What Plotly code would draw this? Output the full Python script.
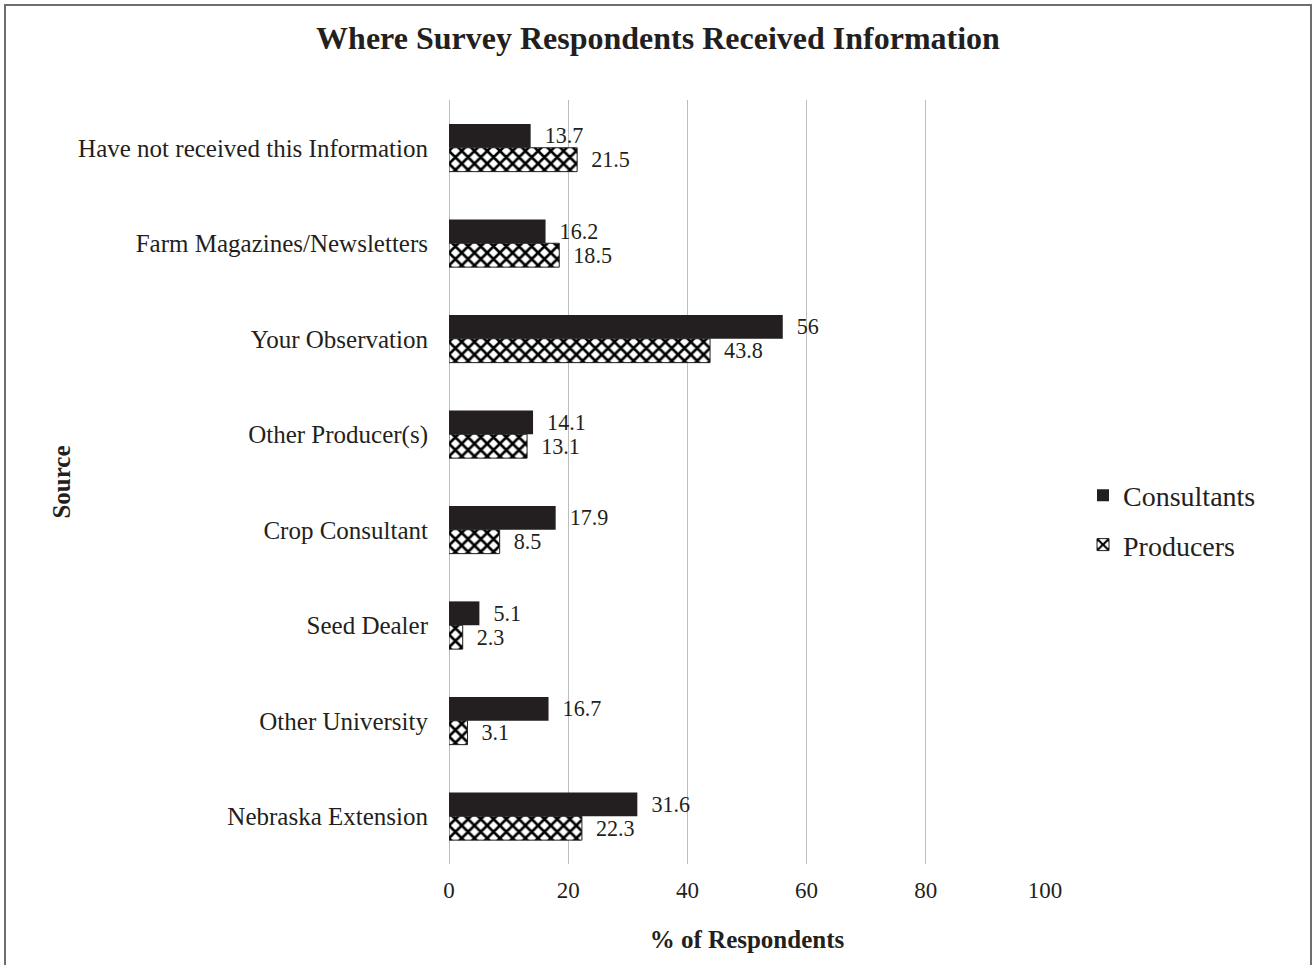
import plotly.graph_objects as go

categories = [
    "Have not received this Information",
    "Farm Magazines/Newsletters",
    "Your Observation",
    "Other Producer(s)",
    "Crop Consultant",
    "Seed Dealer",
    "Other University",
    "Nebraska Extension",
]
consultants = [13.7, 16.2, 56, 14.1, 17.9, 5.1, 16.7, 31.6]
producers = [21.5, 18.5, 43.8, 13.1, 8.5, 2.3, 3.1, 22.3]
x_ticks = [0, 20, 40, 60, 80, 100]

FONT = "Liberation Serif"
INK = "#231f20"
PAD = "\u00a0\u00a0"

fig = go.Figure()
fig.add_trace(go.Bar(
    y=categories, x=consultants, orientation="h", name="Consultants",
    legendgroup="c", legendrank=1,
    marker=dict(color=INK, line=dict(width=0)),
    text=[PAD + f"{v:g}" for v in consultants], textposition="outside",
    textfont=dict(family=FONT, size=25, color=INK), cliponaxis=False,
))
fig.add_trace(go.Bar(
    y=categories, x=producers, orientation="h", name="Producers",
    legendgroup="p", legendrank=2,
    marker=dict(color="white", line=dict(width=1, color=INK),
                pattern=dict(shape="x", fgcolor="#000000", bgcolor="white",
                             fgopacity=1, size=9, solidity=0.5)),
    text=[PAD + f"{v:g}" for v in producers], textposition="outside",
    textfont=dict(family=FONT, size=25, color=INK), cliponaxis=False,
))

L, R, T, B = 449, 1045, 100, 864
W, H = 1313, 965
pw, ph = R - L, B - T

def px_x(p):
    return (p - L) / pw

def px_y(p):
    return (B - p) / ph

fig.update_layout(
    width=W, height=H,
    margin=dict(l=L, r=W - R, t=T, b=H - B, autoexpand=False),
    paper_bgcolor="white", plot_bgcolor="white",
    barmode="group", bargap=0.5, bargroupgap=0,
    font=dict(family=FONT, color=INK),
    title=dict(text="<b>Where Survey Respondents Received Information</b>",
               x=658 / W, xanchor="center", y=1 - 38 / H, yanchor="middle",
               font=dict(family=FONT, size=32, color=INK)),
    xaxis=dict(range=[0, 100], tickvals=x_ticks, showgrid=True, gridcolor="#bdbdbd",
               gridwidth=1, zeroline=True, zerolinecolor="#bdbdbd", zerolinewidth=1,
               showline=False, ticks="", ticklabelstandoff=10,
               tickfont=dict(family=FONT, size=23, color=INK),
               title=dict(text="<b>% of Respondents</b>", standoff=28,
                          font=dict(family=FONT, size=25, color=INK))),
    yaxis=dict(autorange="reversed", showgrid=False, showline=False, ticks="",
               ticklabelstandoff=20,
               tickfont=dict(family=FONT, size=25, color=INK),
               title=dict(text="<b>Source</b>", standoff=0,
                          font=dict(family=FONT, size=25, color=INK))),
    legend=dict(x=px_x(1083), xanchor="left", y=px_y(520), yanchor="middle",
                tracegroupgap=10, font=dict(family=FONT, size=28, color=INK),
                bgcolor="rgba(0,0,0,0)"),
    shapes=[dict(type="rect", xref="paper", yref="paper",
                 x0=px_x(5), x1=px_x(1311), y0=px_y(1020), y1=px_y(5),
                 line=dict(color="#6e6e6e", width=2), fillcolor="rgba(0,0,0,0)",
                 layer="below")],
)

fig.write_html("out.html", config={"displayModeBar": False},
               post_script="document.body.style.margin='0';document.body.style.overflow='hidden';")
